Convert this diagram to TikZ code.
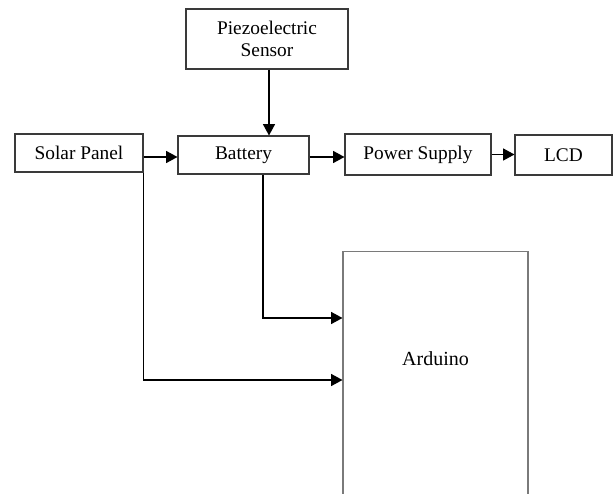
\documentclass[tikz,border=0pt]{standalone}
\usepackage{fontspec}
\setmainfont{Liberation Serif}
\usepackage{tikz}
\usetikzlibrary{arrows.meta,calc}
\definecolor{boxgray}{HTML}{3A3A3A}
\definecolor{ardgray}{HTML}{7A7A7A}

\begin{document}
\begin{tikzpicture}[
    x=0.75pt, y=-0.75pt,
    block/.style={draw=boxgray, line width=0.8pt, align=center, inner sep=1pt,
                  font=\fontsize{14.5}{16}\selectfont},
    arrow/.style={-{Triangle[length=8.5pt, width=9pt]}, line width=0.9pt}
]
\useasboundingbox (0,0) rectangle (613,493);
\clip (0,0) rectangle (613,493);

% --- nodes ---
\node[block, minimum width=121.5pt, minimum height=45pt] (piezo) at (267,39) {Piezoelectric\\Sensor};

\node[block, minimum width=96pt, minimum height=28.5pt] (solar) at (79,153) {Solar Panel};
\node[block, minimum width=98.25pt, minimum height=28.5pt] (battery) at (243.5,155) {Battery};
\node[block, minimum width=109.5pt, minimum height=30.75pt] (psupply) at (418,154.5) {Power Supply};
\node[block, minimum width=72.75pt, minimum height=30pt] (lcd) at (563.5,155) {LCD};

% --- arduino (runs off the page) ---
\node[block, draw=ardgray, anchor=north, minimum width=138.75pt, minimum height=210pt] (ard) at (435.5,251) {};
\node[font=\fontsize{15}{17}\selectfont] (ardtext) at (435.5,359) {Arduino};

% --- arrows ---
\draw[arrow] ([xshift=1.5pt]piezo.south) -- ([xshift=1.5pt]piezo.south |- battery.north);
\draw[arrow] ([yshift=-3pt]solar.east) -- ([yshift=-3pt]solar.east -| battery.west);
\draw[arrow] ([yshift=-1.5pt]battery.east) -- ([yshift=-1.5pt]battery.east -| psupply.west);
\draw[arrow] (psupply.east) -- (psupply.east -| lcd.west);

\draw[arrow] ($(battery.south)+(19.5,0)$) |- ($(ard.north west)+(0,67)$);
\draw[arrow] (solar.south east) |- ($(ard.north west)+(0,129)$);

\end{tikzpicture}
\end{document}
